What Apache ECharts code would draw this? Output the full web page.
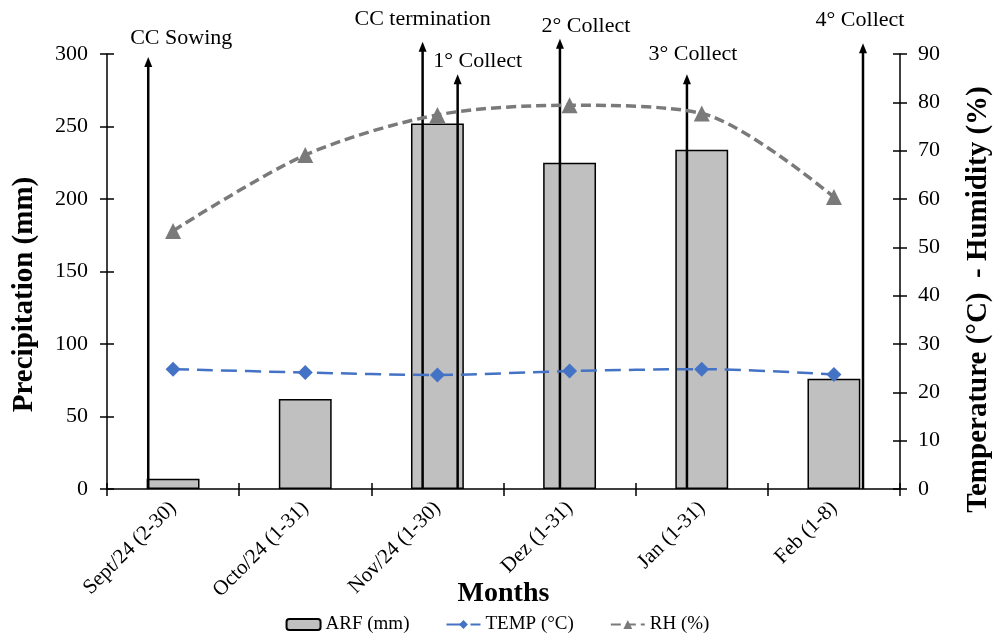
<!DOCTYPE html>
<html>
<head>
<meta charset="utf-8">
<script src="https://cdn.jsdelivr.net/npm/echarts@6/dist/echarts.min.js"></script>
<style>
html,body{margin:0;padding:0;background:#fff;}
#chart{width:995px;height:641px;}
</style>
</head>
<body>
<div id="chart"></div>
<script>
// ---- data ----
var categories = ['Sept/24 (2-30)', 'Octo/24 (1-31)', 'Nov/24 (1-30)', 'Dez (1-31)', 'Jan (1-31)', 'Feb (1-8)'];
var arfValues = [7, 62, 252, 225, 234, 76];
var tempValues = [24.8, 24.1, 23.6, 24.4, 24.8, 23.7];
var rhValues = [53.4, 69.1, 77.4, 79.4, 77.7, 60.4];
var leftTicks = [0, 50, 100, 150, 200, 250, 300];
var rightTicks = [0, 10, 20, 30, 40, 50, 60, 70, 80, 90];
// event arrows: position along the month axis (0 = start of Sept, 6 = end of Feb), top in mm
var eventLabels = ['CC Sowing', 'CC termination', '1° Collect', '2° Collect', '3° Collect', '4° Collect'];
var eventPos = [0.312, 2.388, 2.653, 3.427, 4.388, 5.72];
var eventTop = [298, 308.5, 286, 310.5, 286, 307.5];

// ---- layout / style (not data) ----
var labelOffset = [[33, -19], [0, -22], [20, -13], [26, -13], [6, -20], [-3, -23]];
var FONT = '"Liberation Serif", "Times New Roman", serif';

var chart = echarts.init(document.getElementById('chart'));

var arrowData = eventPos.map(function (p, i) { return [p, eventTop[i], i]; });

function crossAxisY(pos, min, max, interval, showLabel, inside, name, margin) {
  return {
    type: 'value', position: pos, min: min, max: max, interval: interval,
    axisLine: { show: showLabel, lineStyle: { color: '#000', width: 1.5 } },
    axisTick: { show: true, inside: inside, length: 7, lineStyle: { color: '#000', width: 1.5 } },
    axisLabel: { show: showLabel, color: '#000', fontFamily: FONT, fontSize: 22, margin: margin || 14 },
    splitLine: { show: false },
    name: name || '', nameLocation: 'middle', nameMoveOverlap: false
  };
}

var yLeft = crossAxisY('left', 0, 300, 50, true, false, 'Precipitation (mm)', 19);
yLeft.nameGap = 68;
yLeft.nameTextStyle = { fontFamily: FONT, fontSize: 29, fontWeight: 'bold', color: '#000', padding: [0, 46, 0, 0] };
var yRight = crossAxisY('right', 0, 90, 10, true, false, 'Temperature (°C)  - Humidity (%)', 18);
yRight.nameGap = 64;
yRight.nameTextStyle = { fontFamily: FONT, fontSize: 29, fontWeight: 'bold', color: '#000', padding: [0, 56, 0, 0] };
var yLeftIn = crossAxisY('left', 0, 300, 50, false, true);
var yRightIn = crossAxisY('right', 0, 90, 10, false, true);

var option = {
  animation: false,
  backgroundColor: '#fff',
  grid: { left: 107, right: 95, top: 54, bottom: 152, containLabel: false, outerBoundsMode: 'none' },
  legend: {
    bottom: 2, left: 'center',
    itemWidth: 34, itemHeight: 11, itemGap: 36,
    textStyle: { fontFamily: FONT, fontSize: 19, color: '#000' },
    data: ['ARF (mm)', 'TEMP (°C)', 'RH (%)']
  },
  xAxis: [
    {
      type: 'category', data: categories, position: 'bottom',
      axisLine: { lineStyle: { color: '#000', width: 1.5 } },
      axisTick: { show: true, length: 7, lineStyle: { color: '#000', width: 1.5 } },
      axisLabel: { rotate: 45, color: '#000', fontFamily: FONT, fontSize: 21, margin: 16 },
      name: 'Months', nameLocation: 'middle', nameGap: 91, nameMoveOverlap: false,
      nameTextStyle: { fontFamily: FONT, fontSize: 28, fontWeight: 'bold', color: '#000' }
    },
    {
      type: 'value', min: 0, max: 6, position: 'top', show: false
    },
    {
      type: 'category', data: categories, position: 'bottom',
      axisLine: { show: false },
      axisTick: { show: true, inside: true, length: 6, lineStyle: { color: '#000', width: 1.5 } },
      axisLabel: { show: false }
    }
  ],
  yAxis: [yLeft, yRight, yLeftIn, yRightIn],
  series: [
    {
      name: 'ARF (mm)', type: 'bar', data: arfValues, xAxisIndex: 0, yAxisIndex: 0,
      barWidth: '40%',
      itemStyle: { color: '#c0c0c0', borderColor: '#000', borderWidth: 1.5 },
      z: 2
    },
    {
      name: 'arrows', type: 'custom', xAxisIndex: 1, yAxisIndex: 0, data: arrowData,
      clip: false, z: 3, silent: true,
      renderItem: function (params, api) {
        var i = api.value(2);
        var tip = api.coord([api.value(0), api.value(1)]);
        var base = api.coord([api.value(0), 0]);
        var off = labelOffset[i];
        return {
          type: 'group',
          children: [
            { type: 'line', shape: { x1: tip[0], y1: base[1], x2: tip[0], y2: tip[1] + 6 },
              style: { stroke: '#000', lineWidth: 2.5 } },
            { type: 'polygon', shape: { points: [[tip[0], tip[1]], [tip[0] - 4, tip[1] + 10], [tip[0] + 4, tip[1] + 10]] },
              style: { fill: '#000' } },
            { type: 'text', style: { text: eventLabels[i], x: tip[0] + off[0], y: tip[1] + off[1],
              align: 'center', verticalAlign: 'middle', fontFamily: FONT, fontSize: 22, fill: '#000' } }
          ]
        };
      }
    },
    {
      name: 'TEMP (°C)', type: 'line', data: tempValues, xAxisIndex: 0, yAxisIndex: 1,
      smooth: 0.3, symbol: 'diamond', symbolSize: 15,
      lineStyle: { color: '#4472C4', width: 2.5, type: [16, 8] },
      itemStyle: { color: '#4472C4' }, z: 4
    },
    {
      name: 'RH (%)', type: 'line', data: rhValues, xAxisIndex: 0, yAxisIndex: 1,
      smooth: 0.3, symbol: 'triangle', symbolSize: 16,
      lineStyle: { color: '#7a7a7a', width: 3.5, type: [10, 5] },
      itemStyle: { color: '#7a7a7a' }, z: 4
    }
  ]
};
chart.setOption(option);
</script>
</body>
</html>
